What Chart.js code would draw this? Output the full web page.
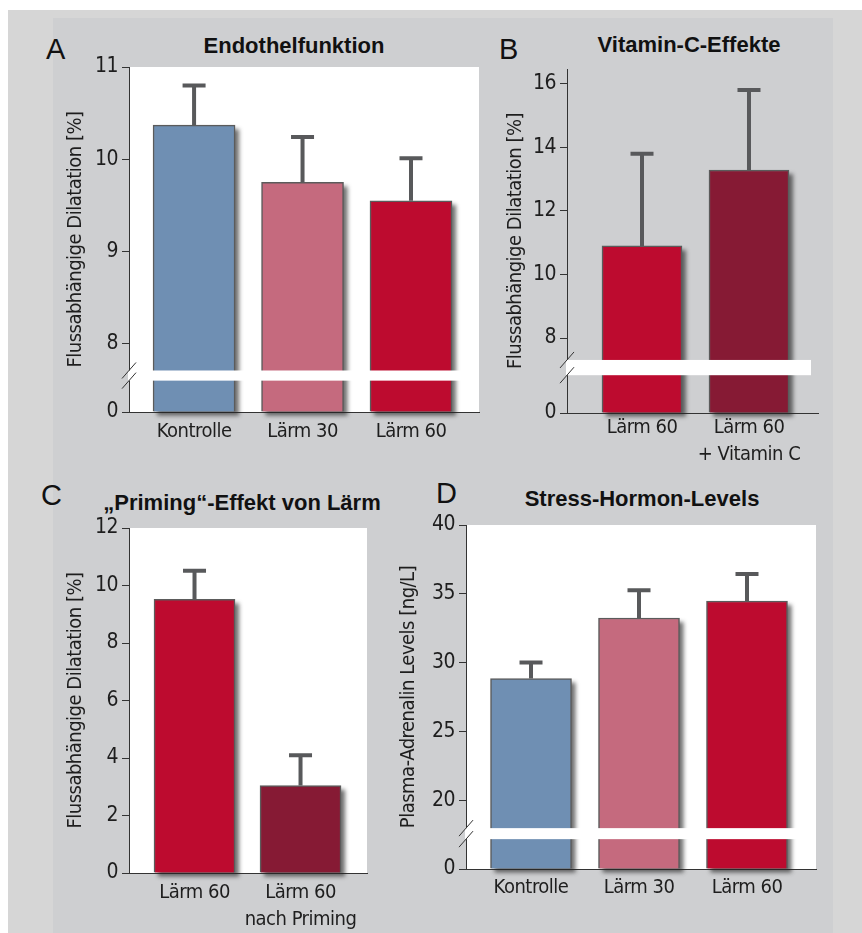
<!DOCTYPE html>
<html lang="de">
<head>
<meta charset="utf-8">
<title>Lärm und Gefäßfunktion</title>
<script src="https://cdn.jsdelivr.net/npm/chart.js"></script>
<style>
  body { margin: 0; background: #fff; width: 862px; height: 933px; position: relative; overflow: hidden;
         font-family: 'Liberation Sans', Arial, sans-serif; }
  #rahmen { position: absolute; left: 8px; top: 10px; width: 854px; height: 923px; background: #d6d6d6; }
  #feld { position: absolute; left: 53px; top: 18px; width: 780px; height: 915px; background: #cecfd1; }
  .buchstabe { position: absolute; font-size: 29px; line-height: 1; color: #111; }
  .titel { position: absolute; width: 400px; text-align: center; font-weight: bold; font-size: 22px; line-height: 1; color: #111; }
  canvas { position: absolute; }
</style>
</head>
<body>
<div id="rahmen"></div>
<div id="feld"></div>

<div class="buchstabe" style="left:46px;top:35px">A</div>
<div class="titel" style="left:94px;top:35px">Endothelfunktion</div>
<div class="buchstabe" style="left:499px;top:35px">B</div>
<div class="titel" style="left:489px;top:34px">Vitamin-C-Effekte</div>
<div class="buchstabe" style="left:41px;top:481px">C</div>
<div class="titel" style="left:42px;top:492px">„Priming“-Effekt von Lärm</div>
<div class="buchstabe" style="left:436px;top:479px">D</div>
<div class="titel" style="left:442px;top:488px">Stress-Hormon-Levels</div>

<canvas id="grafikA" width="430" height="410" style="left:60px;top:50px"></canvas>
<canvas id="grafikB" width="340" height="420" style="left:500px;top:50px"></canvas>
<canvas id="grafikC" width="320" height="420" style="left:60px;top:510px"></canvas>
<canvas id="grafikD" width="440" height="420" style="left:392px;top:504px"></canvas>

<script>
// --- Daten ---
// A: Endothelfunktion
const kategorienA = ['Kontrolle', 'Lärm 30', 'Lärm 60'];
const werteA = [10.37, 9.75, 9.55];
const fehlerA = [0.43, 0.49, 0.46];
const ticksA = [8, 9, 10, 11];

// B: Vitamin-C-Effekte
const kategorienB = [['Lärm 60'], ['Lärm 60', '+ Vitamin C']];
const werteB = [10.90, 13.29];
const fehlerB = [2.90, 2.52];
const ticksB = [8, 10, 12, 14, 16];

// C: Priming-Effekt
const kategorienC = [['Lärm 60'], ['Lärm 60', 'nach Priming']];
const werteC = [9.52, 3.04];
const fehlerC = [0.99, 1.06];
const ticksC = [0, 2, 4, 6, 8, 10, 12];

// D: Stress-Hormon-Levels
const kategorienD = ['Kontrolle', 'Lärm 30', 'Lärm 60'];
const werteD = [28.84, 33.24, 34.48];
const fehlerD = [1.16, 2.01, 1.96];
const ticksD = [20, 25, 30, 35, 40];

const blau = '#6f8fb3', rosa = '#c56a7e', rot = '#bd0b2f', dunkelrot = '#861a34';
const schrift = "'Liberation Sans Narrow', 'DejaVu Sans Condensed', 'Liberation Sans', sans-serif";

// Hintergrund, Schatten, Achsenbruch und Fehlerbalken
const zeichenHilfe = {
  id: 'zeichenHilfe',
  beforeDraw(chart, args, opts) {
    const {ctx, chartArea: a} = chart;
    ctx.letterSpacing = '-0.5px'; // etwas schmalere Schrift
    if (!opts.weiss) return;
    ctx.save();
    ctx.fillStyle = '#fff';
    ctx.fillRect(a.left, a.top, a.right - a.left, a.bottom - a.top);
    ctx.restore();
  },
  beforeDatasetsDraw(chart) {
    const ctx = chart.ctx;
    ctx.save();
    ctx.filter = 'blur(2px)';
    ctx.fillStyle = 'rgba(35,35,35,0.65)';
    chart.getDatasetMeta(0).data.forEach(b => {
      const p = b.getProps(['x', 'y', 'base', 'width'], true);
      ctx.fillRect(p.x - p.width / 2 + 4, p.y + 4, p.width, p.base - p.y);
    });
    ctx.restore();
  },
  afterDatasetsDraw(chart, args, opts) {
    const {ctx, chartArea: a} = chart;
    const y = chart.scales.y;
    ctx.save();
    if (opts.bruch) {
      const y1 = y.getPixelForValue(opts.bruch[1]);
      const y2 = y.getPixelForValue(opts.bruch[0]);
      ctx.fillStyle = '#fff';
      ctx.fillRect(a.left - 1, y1, a.right - a.left - 6, y2 - y1);
      ctx.strokeStyle = '#333';
      ctx.lineWidth = 1;
      [y1, y2].forEach(yy => {
        ctx.beginPath();
        ctx.moveTo(a.left - 7, yy + 8);
        ctx.lineTo(a.left + 7, yy - 8);
        ctx.stroke();
      });
    }
    ctx.strokeStyle = '#58595b';
    ctx.lineWidth = 4;
    const daten = chart.data.datasets[0].data;
    chart.getDatasetMeta(0).data.forEach((b, i) => {
      const p = b.getProps(['x', 'y'], true);
      const oben = y.getPixelForValue(daten[i].y + opts.fehler[i]);
      ctx.beginPath();
      ctx.moveTo(p.x, p.y);
      ctx.lineTo(p.x, oben);
      ctx.moveTo(p.x - 11.5, oben);
      ctx.lineTo(p.x + 11.5, oben);
      ctx.stroke();
    });
    ctx.restore();
  }
};

function balkenGrafik(id, kategorien, werte, fehler, farben, o) {
  const yTicks = o.bruch ? [o.yMin].concat(o.yTicks) : o.yTicks;
  return new Chart(document.getElementById(id), {
    type: 'bar',
    data: {
      datasets: [{
        data: werte.map((w, i) => ({x: i, y: w})),
        backgroundColor: farben,
        borderColor: '#5b5b5b',
        borderWidth: 1.5,
        borderSkipped: 'start',
        barThickness: o.breite,
        base: o.yMin
      }]
    },
    options: {
      responsive: false,
      animation: false,
      layout: {padding: o.rand},
      plugins: {
        legend: {display: false},
        tooltip: {enabled: false},
        zeichenHilfe: {weiss: o.weiss, bruch: o.bruch, fehler: fehler}
      },
      scales: {
        x: {
          type: 'linear',
          min: o.xMin,
          max: o.xMax,
          offset: false,
          grid: {display: false, drawTicks: false, offset: false},
          border: {display: true, color: '#333', width: 1},
          afterBuildTicks: s => { s.ticks = kategorien.map((k, i) => ({value: i})); },
          afterFit: s => { s.height = o.xHoehe; },
          ticks: {
            autoSkip: false,
            maxRotation: 0,
            padding: o.xAbstand,
            color: '#1e1e1e',
            font: {family: schrift, size: 20, lineHeight: 1.35},
            callback: v => kategorien[v]
          }
        },
        y: {
          min: o.yMin,
          max: o.yMax,
          beginAtZero: false,
          grid: {display: true, drawOnChartArea: false, drawTicks: true, tickLength: 7, color: '#333'},
          border: {display: true, color: '#333', width: 1},
          afterBuildTicks: s => { s.ticks = yTicks.map(v => ({value: v})); },
          afterFit: s => { s.width = o.yBreite; },
          ticks: {
            padding: 4,
            color: '#1e1e1e',
            font: {family: schrift, size: 21},
            callback: v => (o.bruch && v === o.yMin) ? '0' : v
          },
          title: {
            display: true,
            text: o.yTitel,
            color: '#1e1e1e',
            font: {family: schrift, size: 20},
            padding: {top: 0, bottom: 0}
          }
        }
      }
    },
    plugins: [zeichenHilfe]
  });
}

const fluss = 'Flussabhängige Dilatation [%]';

balkenGrafik('grafikA', kategorienA, werteA, fehlerA, [blau, rosa, rot], {
  rand: {left: 4, top: 17, right: 11, bottom: 0}, yBreite: 65, xHoehe: 48, xAbstand: 6,
  xMin: -0.6, xMax: 2.627, breite: 82,
  yMin: 7.26, yMax: 11, yTicks: ticksA, bruch: [7.60, 7.71], weiss: true, yTitel: fluss
});

balkenGrafik('grafikB', kategorienB, werteB, fehlerB, [rot, dunkelrot], {
  rand: {left: 4, top: 19, right: 22, bottom: 0}, yBreite: 63, xHoehe: 57, xAbstand: 1,
  xMin: -0.701, xMax: 1.645, breite: 80,
  yMin: 5.64, yMax: 16.47, yTicks: ticksB, bruch: [6.83, 7.31], weiss: false, yTitel: fluss
});

balkenGrafik('grafikC', kategorienC, werteC, fehlerC, [rot, dunkelrot], {
  rand: {left: 4, top: 18, right: 13, bottom: 0}, yBreite: 65, xHoehe: 57, xAbstand: 6,
  xMin: -0.618, xMax: 1.627, breite: 81,
  yMin: 0, yMax: 12, yTicks: ticksC, bruch: null, weiss: true, yTitel: fluss
});

balkenGrafik('grafikD', kategorienD, werteD, fehlerD, [blau, rosa, rot], {
  rand: {left: 5, top: 21, right: 16, bottom: 0}, yBreite: 69, xHoehe: 55, xAbstand: 5,
  xMin: -0.602, xMax: 2.639, breite: 81,
  yMin: 15, yMax: 40, yTicks: ticksD, bruch: [17.17, 17.97], weiss: true, yTitel: 'Plasma-Adrenalin Levels [ng/L]'
});
</script>
</body>
</html>
